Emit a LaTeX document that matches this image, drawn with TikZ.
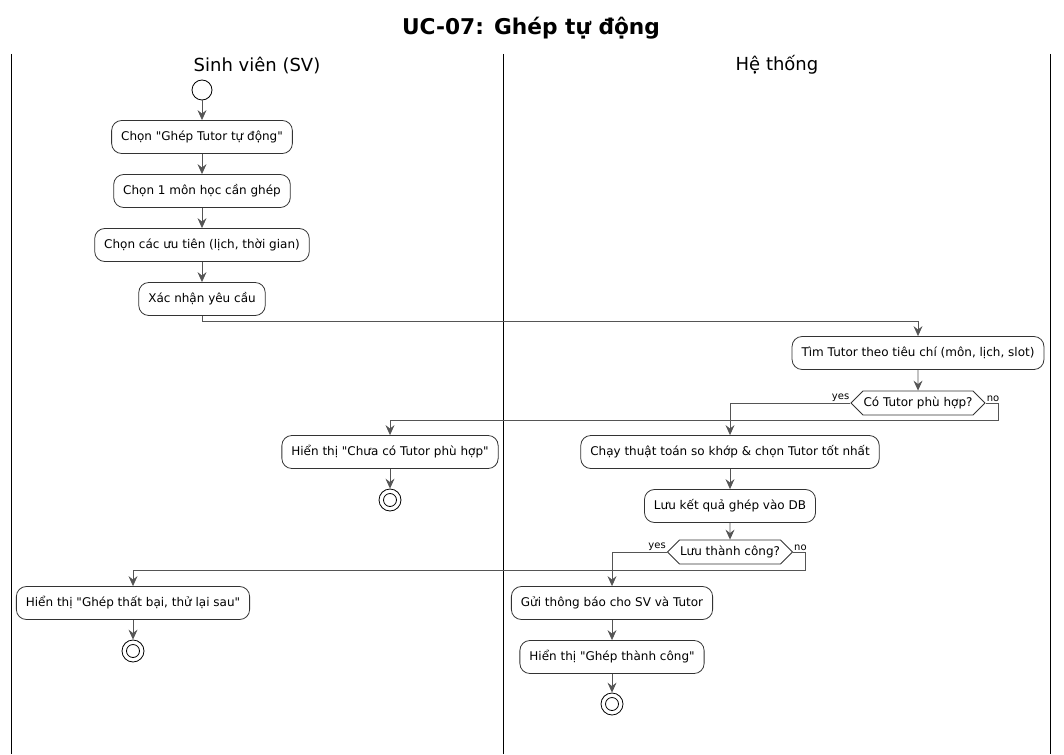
\documentclass[tikz,border=0pt]{standalone}
\usepackage{fontspec}
\setmainfont{DejaVu Sans}
\usetikzlibrary{arrows.meta}
\usetikzlibrary{shapes.symbols}
\usetikzlibrary{positioning}
\definecolor{flowgray}{HTML}{555555}
\definecolor{boxgray}{HTML}{333333}
\newcommand{\qt}{\textquotedbl}
\tikzset{action/.style = {draw=boxgray, line width=0.8pt, rounded corners=10pt, minimum height=33pt,
                          inner xsep=9.5pt, font=\fontsize{12}{14}\selectfont},
         choice/.style = {draw=boxgray, line width=0.8pt, signal, signal to=east and west,
                          signal pointer angle=90, minimum height=24pt, inner xsep=0.5pt,
                          inner ysep=0pt, font=\fontsize{12}{14}\selectfont},
         flow/.style   = {draw=flowgray, line width=0.9pt,
                          -{Stealth[length=10pt, width=9pt, inset=3.5pt]}},
         branch/.style = {font=\fontsize{10}{11}\selectfont, inner sep=1pt},
         initial/.style = {circle, draw=black, line width=0.8pt, minimum size=20pt, inner sep=0pt},
         final/.style  = {circle, draw=black, line width=0.8pt, minimum size=22pt, inner sep=0pt,
                          path picture={\draw [line width=0.8pt] (path picture bounding box.center) circle (6.5pt);}}}

\begin{document}
\begin{tikzpicture}[x=1pt, y=-1pt]
      \useasboundingbox (0, 0) rectangle (1064, 754);

      % title and swimlanes
      \node (title) at (531, 28) {\fontsize{21.7}{24}\selectfont\bfseries UC-07: Ghép tự động};
      \draw (11, 54) -- (11, 754);
      \draw (503, 54) -- (503, 754);
      \draw (1050, 54) -- (1050, 754);
      \node (laneSV) at (257, 65) {\fontsize{18}{21}\selectfont Sinh viên (SV)};
      \node (laneHT) at (777, 65) {\fontsize{18}{21}\selectfont Hệ thống};

      % Sinh vien
      \node [initial] (start) at (202, 90) {};
      \node [action] (pick) at (202, 137) {Chọn \qt Ghép Tutor tự động\qt};
      \node [action] (subject) at (202, 191) {Chọn 1 môn học cần ghép};
      \node [action] (prefs) at (202, 245) {Chọn các ưu tiên (lịch, thời gian)};
      \node [action] (confirm) at (202, 299) {Xác nhận yêu cầu};

      % He thong
      \node [action] (search) at (918, 353) {Tìm Tutor theo tiêu chí (môn, lịch, slot)};
      \node [choice] (found) at (918, 403) {Có Tutor phù hợp?};
      \node [action] (run) at (730, 452) {Chạy thuật toán so khớp \& chọn Tutor tốt nhất};
      \node [action] (nomatch) at (390, 452) {Hiển thị \qt Chưa có Tutor phù hợp\qt};
      \node [final] (end1) at (390, 500) {};
      \node [action] (store) at (730, 506) {Lưu kết quả ghép vào DB};
      \node [choice] (saved) at (730, 552) {Lưu thành công?};
      \node [action] (notify) at (612, 603) {Gửi thông báo cho SV và Tutor};
      \node [action] (fail) at (133, 603) {Hiển thị \qt Ghép thất bại, thử lại sau\qt};
      \node [final] (end2) at (133, 651) {};
      \node [action] (done) at (612, 657) {Hiển thị \qt Ghép thành công\qt};
      \node [final] (end3) at (612, 704) {};

      \draw [flow] (start) -- (pick);
      \draw [flow] (pick) -- (subject);
      \draw [flow] (subject) -- (prefs);
      \draw [flow] (prefs) -- (confirm);
      \draw [flow] (confirm.south) -- ++(0, 6) -| (search.north);
      \draw [flow] (search) -- (found);

      \draw [flow] (found.west) -| (run.north);
      \node [branch, above left] at (found.west) {yes};
      \draw [flow] (found.east) -- ++(13, 0) -- ++(0, 17) -| (nomatch.north);
      \node [branch, above right] at (found.east) {no};
      \draw [flow] (nomatch) -- (end1);
      \draw [flow] (run) -- (store);
      \draw [flow] (store) -- (saved);

      \draw [flow] (saved.west) -| (notify.north);
      \node [branch, above left] at (saved.west) {yes};
      \draw [flow] (saved.east) -- ++(12, 0) -- ++(0, 18) -| (fail.north);
      \node [branch, above right] at (saved.east) {no};
      \draw [flow] (fail) -- (end2);
      \draw [flow] (notify) -- (done);
      \draw [flow] (done) -- (end3);
    \end{tikzpicture}
\end{document}
